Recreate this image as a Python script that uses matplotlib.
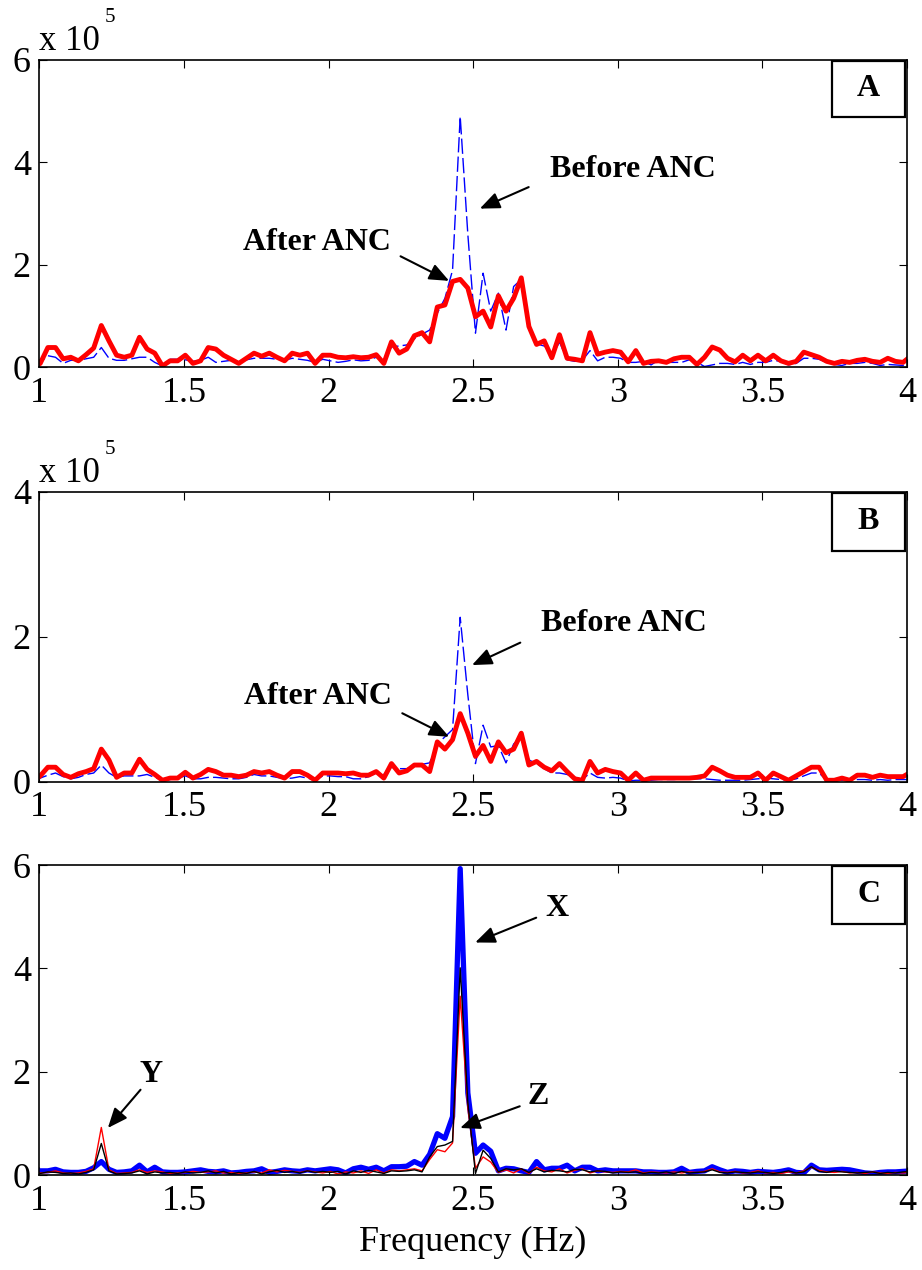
import numpy as np
import matplotlib
matplotlib.use("Agg")
import matplotlib.pyplot as plt
from matplotlib.patches import Rectangle

plt.rcParams['font.family'] = ['Liberation Serif', 'DejaVu Serif']

# frequency bins (Hz): bin index * resolution
FREQ_STEP = 0.0264
bins = np.arange(37, 153)
freq = bins * FREQ_STEP

# ---- panel A (x 1e5) ----
a_after = [0.00, 0.08, 0.39, 0.39, 0.17, 0.20, 0.13, 0.25, 0.38, 0.82,
           0.52, 0.24, 0.20, 0.24, 0.59, 0.36, 0.28, 0.03, 0.13, 0.13,
           0.24, 0.08, 0.13, 0.39, 0.36, 0.24, 0.16, 0.08, 0.18, 0.28,
           0.22, 0.28, 0.20, 0.13, 0.28, 0.24, 0.28, 0.08, 0.24, 0.24,
           0.20, 0.19, 0.21, 0.19, 0.20, 0.25, 0.08, 0.50, 0.28, 0.36,
           0.62, 0.68, 0.50, 1.18, 1.22, 1.68, 1.72, 1.55, 0.99, 1.10,
           0.79, 1.40, 1.10, 1.35, 1.75, 0.80, 0.45, 0.52, 0.19, 0.64,
           0.18, 0.16, 0.13, 0.68, 0.26, 0.30, 0.33, 0.30, 0.11, 0.33,
           0.08, 0.12, 0.13, 0.10, 0.17, 0.20, 0.20, 0.06, 0.20, 0.40,
           0.34, 0.18, 0.11, 0.24, 0.13, 0.24, 0.13, 0.24, 0.13, 0.08,
           0.12, 0.30, 0.25, 0.20, 0.12, 0.08, 0.12, 0.10, 0.14, 0.16,
           0.12, 0.10, 0.18, 0.12, 0.10, 0.22]
a_before = [0.00, 0.10, 0.23, 0.20, 0.08, 0.14, 0.14, 0.17, 0.20, 0.39,
            0.18, 0.14, 0.14, 0.17, 0.20, 0.20, 0.10, 0.03, 0.16, 0.16,
            0.15, 0.12, 0.14, 0.20, 0.10, 0.12, 0.14, 0.12, 0.15, 0.18,
            0.18, 0.18, 0.16, 0.14, 0.18, 0.16, 0.14, 0.10, 0.16, 0.13,
            0.10, 0.12, 0.15, 0.13, 0.14, 0.20, 0.12, 0.40, 0.42, 0.44,
            0.56, 0.65, 0.73, 1.06, 1.35, 1.90, 4.90, 2.60, 0.67, 1.84,
            1.10, 1.45, 0.73, 1.58, 1.72, 0.83, 0.46, 0.42, 0.20, 0.50,
            0.15, 0.12, 0.14, 0.33, 0.13, 0.20, 0.20, 0.18, 0.10, 0.10,
            0.12, 0.05, 0.15, 0.10, 0.10, 0.10, 0.15, 0.10, 0.02, 0.05,
            0.08, 0.08, 0.06, 0.10, 0.06, 0.10, 0.10, 0.14, 0.12, 0.05,
            0.08, 0.18, 0.18, 0.16, 0.10, 0.06, 0.04, 0.08, 0.08, 0.10,
            0.08, 0.04, 0.06, 0.05, 0.04, 0.10]

# ---- panel B (x 1e5) ----
b_after = [0.00, 0.08, 0.20, 0.20, 0.10, 0.06, 0.11, 0.14, 0.18, 0.45,
           0.30, 0.06, 0.12, 0.12, 0.31, 0.17, 0.10, 0.02, 0.05, 0.05,
           0.13, 0.05, 0.10, 0.17, 0.14, 0.09, 0.09, 0.07, 0.09, 0.14,
           0.12, 0.14, 0.09, 0.05, 0.14, 0.14, 0.09, 0.02, 0.12, 0.12,
           0.12, 0.11, 0.12, 0.09, 0.09, 0.14, 0.05, 0.25, 0.12, 0.15,
           0.23, 0.23, 0.14, 0.55, 0.45, 0.58, 0.94, 0.67, 0.35, 0.50,
           0.28, 0.55, 0.40, 0.45, 0.67, 0.23, 0.28, 0.20, 0.15, 0.25,
           0.14, 0.04, 0.02, 0.28, 0.12, 0.17, 0.14, 0.12, 0.02, 0.12,
           0.02, 0.05, 0.05, 0.05, 0.05, 0.05, 0.05, 0.06, 0.08, 0.20,
           0.15, 0.09, 0.06, 0.06, 0.06, 0.12, 0.02, 0.12, 0.07, 0.02,
           0.08, 0.14, 0.20, 0.20, 0.02, 0.02, 0.05, 0.02, 0.09, 0.09,
           0.06, 0.09, 0.07, 0.07, 0.07, 0.13]
b_before = [0.00, 0.05, 0.09, 0.12, 0.07, 0.04, 0.06, 0.10, 0.12, 0.23,
            0.12, 0.06, 0.08, 0.08, 0.08, 0.10, 0.06, 0.02, 0.03, 0.05,
            0.08, 0.04, 0.04, 0.06, 0.06, 0.05, 0.04, 0.04, 0.06, 0.10,
            0.08, 0.08, 0.06, 0.04, 0.05, 0.07, 0.05, 0.02, 0.08, 0.08,
            0.07, 0.07, 0.04, 0.04, 0.07, 0.12, 0.10, 0.20, 0.18, 0.18,
            0.22, 0.24, 0.26, 0.52, 0.62, 0.72, 2.27, 1.20, 0.25, 0.78,
            0.48, 0.50, 0.26, 0.52, 0.62, 0.30, 0.25, 0.18, 0.12, 0.12,
            0.10, 0.06, 0.03, 0.12, 0.06, 0.05, 0.06, 0.05, 0.01, 0.02,
            0.02, 0.02, 0.03, 0.03, 0.03, 0.04, 0.04, 0.04, 0.04, 0.03,
            0.02, 0.02, 0.02, 0.02, 0.03, 0.04, 0.05, 0.04, 0.03, 0.02,
            0.04, 0.08, 0.12, 0.12, 0.02, 0.02, 0.02, 0.02, 0.03, 0.03,
            0.02, 0.03, 0.02, 0.03, 0.03, 0.03]

# ---- panel C ----
c_x = [0.08, 0.08, 0.08, 0.11, 0.06, 0.05, 0.05, 0.07, 0.14, 0.26,
       0.11, 0.05, 0.06, 0.08, 0.19, 0.06, 0.15, 0.06, 0.05, 0.05,
       0.06, 0.08, 0.10, 0.07, 0.06, 0.08, 0.04, 0.05, 0.07, 0.08,
       0.12, 0.05, 0.07, 0.10, 0.08, 0.07, 0.10, 0.08, 0.10, 0.12,
       0.10, 0.04, 0.12, 0.15, 0.11, 0.15, 0.08, 0.16, 0.16, 0.17,
       0.26, 0.19, 0.40, 0.80, 0.71, 1.13, 5.93, 1.59, 0.42, 0.58,
       0.46, 0.08, 0.13, 0.12, 0.08, 0.05, 0.26, 0.10, 0.13, 0.13,
       0.19, 0.08, 0.15, 0.15, 0.08, 0.10, 0.08, 0.08, 0.08, 0.08,
       0.06, 0.06, 0.05, 0.05, 0.06, 0.13, 0.05, 0.07, 0.08, 0.16,
       0.10, 0.05, 0.08, 0.07, 0.05, 0.07, 0.06, 0.05, 0.07, 0.10,
       0.05, 0.04, 0.19, 0.10, 0.09, 0.10, 0.11, 0.10, 0.07, 0.04,
       0.03, 0.05, 0.06, 0.06, 0.07, 0.08]
c_y = [0.04, 0.04, 0.05, 0.08, 0.04, 0.03, 0.04, 0.07, 0.12, 0.92,
       0.10, 0.03, 0.04, 0.05, 0.10, 0.05, 0.08, 0.06, 0.03, 0.04,
       0.05, 0.07, 0.05, 0.06, 0.08, 0.04, 0.05, 0.03, 0.04, 0.06,
       0.04, 0.10, 0.06, 0.09, 0.07, 0.05, 0.08, 0.06, 0.04, 0.07,
       0.02, 0.06, 0.04, 0.08, 0.03, 0.10, 0.04, 0.10, 0.08, 0.10,
       0.12, 0.08, 0.30, 0.49, 0.45, 0.62, 3.46, 1.30, 0.13, 0.35,
       0.25, 0.05, 0.10, 0.04, 0.12, 0.03, 0.15, 0.08, 0.06, 0.12,
       0.04, 0.09, 0.12, 0.04, 0.08, 0.06, 0.05, 0.07, 0.06, 0.10,
       0.04, 0.06, 0.05, 0.04, 0.06, 0.04, 0.06, 0.05, 0.07, 0.12,
       0.06, 0.05, 0.07, 0.04, 0.05, 0.08, 0.04, 0.05, 0.03, 0.06,
       0.04, 0.08, 0.15, 0.09, 0.06, 0.05, 0.07, 0.04, 0.05, 0.03,
       0.06, 0.04, 0.03, 0.05, 0.04, 0.06]
c_z = [0.02, 0.03, 0.06, 0.05, 0.03, 0.04, 0.02, 0.05, 0.10, 0.61,
       0.08, 0.02, 0.03, 0.04, 0.08, 0.02, 0.06, 0.04, 0.05, 0.03,
       0.06, 0.04, 0.05, 0.08, 0.04, 0.07, 0.02, 0.05, 0.03, 0.07,
       0.02, 0.06, 0.09, 0.05, 0.07, 0.04, 0.08, 0.05, 0.07, 0.05,
       0.07, 0.02, 0.08, 0.05, 0.09, 0.06, 0.03, 0.08, 0.07, 0.08,
       0.10, 0.06, 0.35, 0.55, 0.58, 0.65, 4.01, 1.40, 0.03, 0.48,
       0.32, 0.06, 0.12, 0.10, 0.12, 0.05, 0.12, 0.06, 0.09, 0.08,
       0.06, 0.11, 0.10, 0.06, 0.08, 0.07, 0.04, 0.06, 0.05, 0.06,
       0.03, 0.05, 0.04, 0.06, 0.03, 0.07, 0.04, 0.05, 0.06, 0.10,
       0.05, 0.04, 0.06, 0.05, 0.04, 0.06, 0.05, 0.03, 0.05, 0.08,
       0.04, 0.06, 0.16, 0.07, 0.05, 0.08, 0.06, 0.05, 0.04, 0.05,
       0.06, 0.03, 0.05, 0.04, 0.06, 0.07]

xticks = [1, 1.5, 2, 2.5, 3, 3.5, 4]
xticklabels = ['1', '1.5', '2', '2.5', '3', '3.5', '4']

W, H = 922, 1270
fig = plt.figure(figsize=(W / 100, H / 100), dpi=100)

def px_axes(top, bottom, left=39.3, right=907.0):
    return fig.add_axes([left / W, 1 - bottom / H, (right - left) / W, (bottom - top) / H])

axA = px_axes(60, 367.5)
axB = px_axes(492, 781.7)
axC = px_axes(865, 1175)

BLUE = '#0000ff'
RED = '#ff0000'

axA.plot(freq, a_before, color=BLUE, lw=1.0, ls=(0, (11, 3)))
axA.plot(freq, a_after, color=RED, lw=3.5)
axB.plot(freq, b_before, color=BLUE, lw=1.0, ls=(0, (11, 3)))
axB.plot(freq, b_after, color=RED, lw=3.5)
axC.plot(freq, c_x, color=BLUE, lw=3.8)
axC.plot(freq, c_y, color=RED, lw=1.0)
axC.plot(freq, c_z, color='k', lw=1.0)

for ax, ymax, yt in [(axA, 6, [0, 2, 4, 6]), (axB, 4, [0, 2, 4]), (axC, 6, [0, 2, 4, 6])]:
    ax.set_xlim(1, 4)
    ax.set_ylim(0, ymax)
    ax.set_xticks(xticks)
    ax.set_xticklabels(xticklabels)
    ax.set_yticks(yt)
    ax.set_yticklabels([str(v) for v in yt])
    ax.tick_params(direction='in', top=True, right=True, length=6, width=0.8,
                   labelsize=26, pad=7)
    ax.tick_params(axis='y', pad=6)
    for s in ax.spines.values():
        s.set_linewidth(1.2)

def label_box(ax, letter, h):
    ax.add_patch(Rectangle((0.914, 0.997 - h), 0.0835, h, transform=ax.transAxes,
                           facecolor='white', edgecolor='k', lw=1.6, zorder=5))
    ax.text(0.914 + 0.0835 / 2, 0.997 - h / 2, letter, transform=ax.transAxes,
            ha='center', va='center', fontsize=23, fontweight='bold', zorder=6)

label_box(axA, 'A', 0.182)
label_box(axB, 'B', 0.200)
label_box(axC, 'C', 0.186)

arrow = dict(arrowstyle='-|>,head_length=0.6,head_width=0.25', color='k', lw=1.5,
             mutation_scale=20, shrinkA=0, shrinkB=0)

def note(ax, txt, tpos, start, tip):
    ax.text(tpos[0], tpos[1], txt, ha='center', va='center', fontsize=23, fontweight='bold')
    ax.annotate('', xy=tip, xytext=start, arrowprops=arrow)

note(axA, 'Before ANC', (3.051, 3.86), (2.692, 3.52), (2.523, 3.10))
note(axA, 'After ANC', (1.959, 2.44), (2.249, 2.17), (2.417, 1.69))
note(axB, 'Before ANC', (3.020, 2.18), (2.663, 1.92), (2.496, 1.61))
note(axB, 'After ANC', (1.963, 1.18), (2.255, 0.945), (2.417, 0.62))
note(axC, 'X', (2.788, 5.15), (2.718, 4.98), (2.507, 4.50))
note(axC, 'Z', (2.724, 1.52), (2.661, 1.33), (2.455, 0.91))
note(axC, 'Y', (1.385, 1.94), (1.350, 1.65), (1.237, 0.91))

# "x 10^5" multipliers (MATLAB style)
fig.text(39 / W, 1 - 50 / H, 'x 10', fontsize=25, va='baseline', ha='left')
fig.text(105 / W, 1 - 22 / H, '5', fontsize=15, va='baseline', ha='left')
fig.text(39 / W, 1 - 482 / H, 'x 10', fontsize=25, va='baseline', ha='left')
fig.text(105 / W, 1 - 454 / H, '5', fontsize=15, va='baseline', ha='left')

axC.set_xlabel('Frequency (Hz)', fontsize=26, labelpad=6)

fig.savefig('out.png', dpi=100)
